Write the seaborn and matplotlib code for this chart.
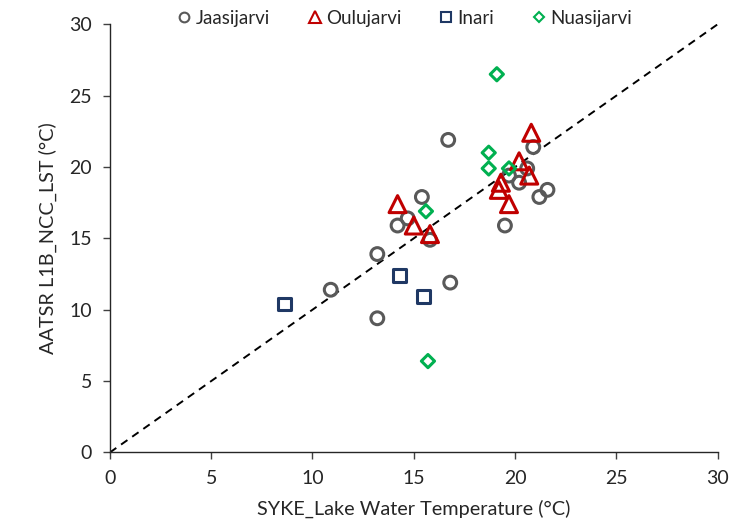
import matplotlib
matplotlib.use("Agg")
import matplotlib.pyplot as plt
import seaborn as sns
import pandas as pd
from matplotlib.lines import Line2D

# Data
jaas_x = [16.7, 20.9, 21.6, 21.2, 20.6, 20.2, 19.7, 19.5, 15.4, 14.7, 14.2, 15.8, 13.2, 10.9, 13.2, 16.8]
jaas_y = [21.9, 21.4, 18.4, 17.9, 19.9, 18.9, 19.4, 15.9, 17.9, 16.4, 15.9, 14.9, 13.9, 11.4, 9.4, 11.9]
oulu_x = [20.8, 20.2, 20.7, 19.3, 19.2, 19.7, 14.2, 15.0, 15.8]
oulu_y = [22.4, 20.4, 19.4, 18.9, 18.4, 17.4, 17.4, 15.9, 15.3]
inari_x = [8.6, 14.3, 15.5]
inari_y = [10.4, 12.4, 10.9]
nuas_x = [19.1, 18.7, 18.7, 19.7, 15.6, 15.7]
nuas_y = [26.5, 21.0, 19.9, 19.9, 16.9, 6.4]
lakes = ["Jaasijarvi", "Oulujarvi", "Inari", "Nuasijarvi"]
x_ticks = [0, 5, 10, 15, 20, 25, 30]
y_ticks = [0, 5, 10, 15, 20, 25, 30]

df = pd.concat([
    pd.DataFrame({"x": jaas_x, "y": jaas_y, "lake": lakes[0]}),
    pd.DataFrame({"x": oulu_x, "y": oulu_y, "lake": lakes[1]}),
    pd.DataFrame({"x": inari_x, "y": inari_y, "lake": lakes[2]}),
    pd.DataFrame({"x": nuas_x, "y": nuas_y, "lake": lakes[3]}),
], ignore_index=True)

sns.set_style("white")
plt.rcParams['font.family'] = ['Lato', 'DejaVu Sans']

colors = {"Jaasijarvi": "#595959", "Oulujarvi": "#C00000", "Inari": "#1F3864", "Nuasijarvi": "#00B050"}
markers = {"Jaasijarvi": "o", "Oulujarvi": "^", "Inari": "s", "Nuasijarvi": "D"}
sizes = {"Jaasijarvi": 85, "Oulujarvi": 150, "Inari": 85, "Nuasijarvi": 45}

fig = plt.figure(figsize=(7.53, 5.32), dpi=100)
ax = fig.add_axes([0.146, 0.1496, 0.807, 0.8047])

ax.plot([0, 30], [0, 30], ls=(0, (4, 3)), color="black", lw=1.4, zorder=1)

for lake in lakes:
    sub = df[df["lake"] == lake]
    sns.scatterplot(data=sub, x="x", y="y", ax=ax, marker=markers[lake], s=sizes[lake],
                    facecolor="none", edgecolor=colors[lake], linewidth=2.2, zorder=3, legend=False)

ax.set_xlim(0, 30)
ax.set_ylim(0, 30)
ax.set_xticks(x_ticks)
ax.set_yticks(y_ticks)
ax.tick_params(labelsize=14, direction="out", length=5, width=1, color="#404040", bottom=True, left=True, pad=8)
for s in ["top", "right"]:
    ax.spines[s].set_visible(False)
for s in ["left", "bottom"]:
    ax.spines[s].set_color("#262626")
    ax.spines[s].set_linewidth(1.0)

ax.set_xlabel("SYKE_Lake Water Temperature (°C)", fontsize=14.3, labelpad=9)
ax.set_ylabel("AATSR L1B_NCC_LST (°C)", fontsize=14.3, labelpad=9)

handles = [Line2D([], [], marker=markers[l], ls="none", mfc="none", mec=colors[l], mew=1.5,
                  ms={"Jaasijarvi": 7, "Oulujarvi": 9, "Inari": 7.5, "Nuasijarvi": 5.5}[l]) for l in lakes]
fig.legend(handles, lakes, loc="center", bbox_to_anchor=(0.536, 0.966), ncol=4, frameon=False,
           fontsize=13.5, handletextpad=0.1, columnspacing=1.9, handlelength=1.0)

fig.savefig("out.png", dpi=100)
